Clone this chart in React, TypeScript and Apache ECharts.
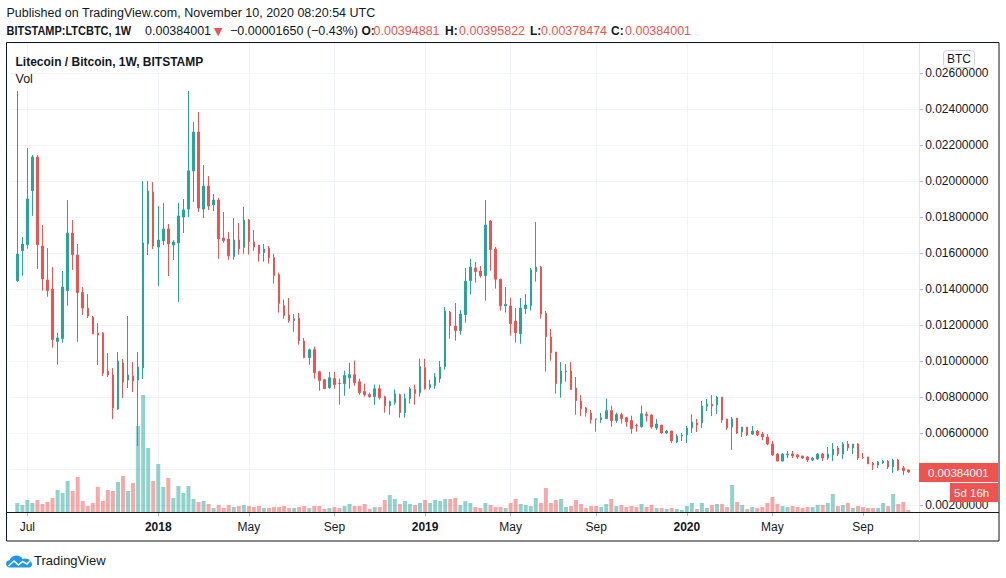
import React, { useEffect, useRef } from "react";
import * as echarts from "echarts";

// ---- data (weekly LTC/BTC, Bitstamp) ----
const FIRST_WEEK_UTC = Date.UTC(2017, 5, 19); // Monday of the first weekly bar

const opens = [
  0.01446, 0.01613, 0.01646, 0.01946, 0.02133, 0.01639, 0.0145, 0.014, 0.01109, 0.01124,
  0.01391, 0.01711, 0.01589, 0.0138, 0.01294, 0.01244, 0.01156, 0.01156, 0.00944, 0.00922,
  0.00733, 0.00989, 0.00894, 0.00917, 0.00894, 0.00961, 0.0165, 0.01939, 0.01633, 0.01667,
  0.01733, 0.01644, 0.01656, 0.018, 0.01844, 0.02056, 0.02272, 0.01844, 0.01972, 0.01867,
  0.01894, 0.01683, 0.01678, 0.0158, 0.01672, 0.0163, 0.01783, 0.01661, 0.01644, 0.01602,
  0.01628, 0.01574, 0.0148, 0.01307, 0.01256, 0.01224, 0.01239, 0.01111, 0.01019, 0.01063,
  0.0094, 0.00896, 0.00852, 0.00902, 0.00876, 0.00874, 0.00907, 0.00924, 0.00885, 0.0083,
  0.00813, 0.00802, 0.00846, 0.00802, 0.00752, 0.00769, 0.00813, 0.00713, 0.00791, 0.00841,
  0.00824, 0.00963, 0.00852, 0.00863, 0.00902, 0.00969, 0.01272, 0.01194, 0.01169, 0.01257,
  0.01446, 0.01517, 0.015, 0.01474, 0.01778, 0.01622, 0.01454, 0.01307, 0.01306, 0.01222,
  0.01152, 0.01291, 0.01307, 0.01496, 0.01522, 0.01265, 0.01133, 0.0105, 0.00874, 0.0094,
  0.00944, 0.0085, 0.00778, 0.00739, 0.00711, 0.00678, 0.00674, 0.0068, 0.00724, 0.00669,
  0.00702, 0.00685, 0.00669, 0.00641, 0.00635, 0.00704, 0.007, 0.00628, 0.00644, 0.006,
  0.00611, 0.0055, 0.00583, 0.00589, 0.00628, 0.00656, 0.00656, 0.00748, 0.00761, 0.00756,
  0.008, 0.00678, 0.00633, 0.00683, 0.00606, 0.00633, 0.00594, 0.00611, 0.00594, 0.00578,
  0.00539, 0.00483, 0.00444, 0.00478, 0.00483, 0.00478, 0.00472, 0.00467, 0.0045, 0.00456,
  0.00483, 0.00461, 0.00478, 0.00517, 0.00483, 0.00539, 0.00517, 0.00539, 0.00465, 0.00467,
  0.00433, 0.00422, 0.00433, 0.00444, 0.00411, 0.0045, 0.00406, 0.00394881,
];

const closes = [
  0.01594, 0.0165, 0.019, 0.02133, 0.01646, 0.01456, 0.01391, 0.0112, 0.01128, 0.01411,
  0.01711, 0.01591, 0.0138, 0.01294, 0.0125, 0.0115, 0.01144, 0.00933, 0.00922, 0.00739,
  0.01, 0.00883, 0.00922, 0.00889, 0.00967, 0.01656, 0.01944, 0.01639, 0.01672, 0.01733,
  0.0165, 0.01661, 0.01806, 0.01839, 0.02056, 0.02272, 0.0185, 0.01972, 0.01861, 0.01894,
  0.01678, 0.01669, 0.01585, 0.01672, 0.01624, 0.01783, 0.01663, 0.01633, 0.01596, 0.01622,
  0.01574, 0.01474, 0.01319, 0.01252, 0.01224, 0.01235, 0.01113, 0.01019, 0.01063, 0.00935,
  0.00891, 0.00846, 0.00907, 0.00869, 0.00874, 0.00919, 0.00924, 0.0088, 0.00824, 0.00813,
  0.00802, 0.00846, 0.00796, 0.00752, 0.00774, 0.00817, 0.00713, 0.00791, 0.00846, 0.00819,
  0.00969, 0.00846, 0.00869, 0.00911, 0.00967, 0.01278, 0.01196, 0.01169, 0.01261, 0.01444,
  0.01522, 0.01496, 0.01474, 0.01756, 0.01619, 0.01454, 0.01307, 0.01315, 0.01207, 0.01157,
  0.01294, 0.01311, 0.01506, 0.01522, 0.01261, 0.01135, 0.01046, 0.00874, 0.00944, 0.00944,
  0.00841, 0.0078, 0.00735, 0.00713, 0.00674, 0.00676, 0.00685, 0.00724, 0.00669, 0.00702,
  0.0068, 0.00663, 0.00624, 0.00639, 0.00707, 0.00696, 0.00633, 0.0065, 0.006, 0.00611,
  0.00556, 0.00583, 0.00589, 0.00628, 0.00661, 0.00644, 0.0075, 0.00761, 0.0075, 0.008,
  0.00672, 0.00628, 0.00678, 0.006, 0.00633, 0.00589, 0.00611, 0.00589, 0.00578, 0.00539,
  0.00478, 0.00444, 0.00483, 0.00483, 0.00472, 0.00467, 0.00461, 0.0045, 0.00461, 0.00483,
  0.00461, 0.00483, 0.00511, 0.00483, 0.00539, 0.00517, 0.00539, 0.00461, 0.00463, 0.00428,
  0.00422, 0.00439, 0.00444, 0.00411, 0.0045, 0.00394, 0.00392, 0.00384001,
];

const lows = [
  0.0144, 0.01474, 0.01624, 0.01806, 0.01511, 0.01391, 0.01357, 0.01074, 0.0098, 0.01102,
  0.01307, 0.01506, 0.01107, 0.01256, 0.01239, 0.0115, 0.00978, 0.00917, 0.00911, 0.00678,
  0.00728, 0.00794, 0.0085, 0.00828, 0.00528, 0.009, 0.01589, 0.01622, 0.01417, 0.01644,
  0.01472, 0.01561, 0.01328, 0.01711, 0.018, 0.01883, 0.01828, 0.01794, 0.01839, 0.01833,
  0.01567, 0.01657, 0.01563, 0.01563, 0.01591, 0.01596, 0.01591, 0.01613, 0.01552, 0.01552,
  0.01541, 0.0143, 0.01269, 0.01235, 0.01213, 0.01163, 0.01091, 0.01015, 0.0098, 0.00902,
  0.00835, 0.00846, 0.00846, 0.00846, 0.00757, 0.00807, 0.00846, 0.00863, 0.00813, 0.00802,
  0.00796, 0.00757, 0.00785, 0.00713, 0.00702, 0.00757, 0.00685, 0.00685, 0.00763, 0.00757,
  0.00802, 0.00841, 0.00841, 0.00846, 0.0088, 0.00952, 0.01124, 0.01113, 0.01146, 0.01213,
  0.01369, 0.01435, 0.01463, 0.01335, 0.01502, 0.01402, 0.0128, 0.01269, 0.01141, 0.01102,
  0.01096, 0.01261, 0.0128, 0.01441, 0.01235, 0.00941, 0.01002, 0.00819, 0.00796, 0.00885,
  0.00841, 0.00702, 0.00693, 0.00691, 0.00652, 0.00607, 0.00656, 0.0068, 0.00635, 0.00657,
  0.00652, 0.00635, 0.00596, 0.00607, 0.0063, 0.00663, 0.00624, 0.00617, 0.00594, 0.00594,
  0.00544, 0.00544, 0.00556, 0.00544, 0.006, 0.00606, 0.00628, 0.00722, 0.00694, 0.00706,
  0.00656, 0.00617, 0.00506, 0.00594, 0.00578, 0.00583, 0.00589, 0.00583, 0.00561, 0.00533,
  0.00472, 0.00444, 0.00444, 0.00461, 0.00461, 0.00456, 0.00456, 0.00439, 0.00444, 0.0045,
  0.00444, 0.0045, 0.00444, 0.00472, 0.00456, 0.005, 0.00483, 0.0045, 0.00456, 0.00428,
  0.00394, 0.00406, 0.00428, 0.004, 0.00378, 0.00389, 0.00367, 0.00378474,
];

const highs = [
  0.025, 0.01689, 0.02183, 0.02144, 0.02144, 0.01756, 0.01628, 0.01522, 0.01156, 0.015,
  0.01894, 0.01783, 0.0165, 0.01411, 0.01372, 0.0125, 0.01211, 0.01161, 0.01044, 0.00961,
  0.0105, 0.01011, 0.0125, 0.00994, 0.0105, 0.02, 0.02, 0.01994, 0.01861, 0.01878,
  0.01761, 0.01672, 0.01878, 0.019, 0.025, 0.02328, 0.02383, 0.02089, 0.02028, 0.01928,
  0.01906, 0.01828, 0.01717, 0.01794, 0.01767, 0.01856, 0.01789, 0.01728, 0.01644, 0.0165,
  0.01639, 0.01596, 0.01491, 0.01341, 0.0135, 0.01261, 0.01267, 0.01128, 0.01069, 0.0108,
  0.00946, 0.00902, 0.0094, 0.0094, 0.00902, 0.00946, 0.00991, 0.01002, 0.00902, 0.00874,
  0.00824, 0.00869, 0.00869, 0.00807, 0.0078, 0.00841, 0.00819, 0.00819, 0.00857, 0.00869,
  0.01013, 0.01013, 0.00896, 0.00933, 0.01, 0.013, 0.01278, 0.01322, 0.01283, 0.01517,
  0.01567, 0.0155, 0.01528, 0.01894, 0.01783, 0.01633, 0.01457, 0.01411, 0.0135, 0.01294,
  0.0135, 0.01372, 0.01517, 0.01772, 0.01528, 0.01278, 0.01178, 0.0105, 0.00994, 0.00983,
  0.00994, 0.00911, 0.00811, 0.00744, 0.00728, 0.0068, 0.00711, 0.00791, 0.00752, 0.00713,
  0.00713, 0.0069, 0.00696, 0.00652, 0.00752, 0.00718, 0.00704, 0.00678, 0.00644, 0.00617,
  0.00611, 0.00594, 0.006, 0.00639, 0.00704, 0.00678, 0.00778, 0.00789, 0.00811, 0.00806,
  0.008, 0.00678, 0.00689, 0.00683, 0.00633, 0.00633, 0.00639, 0.00617, 0.00606, 0.00594,
  0.00556, 0.00489, 0.00489, 0.005, 0.005, 0.00483, 0.00472, 0.00472, 0.00467, 0.00489,
  0.00489, 0.00522, 0.00544, 0.00528, 0.0055, 0.00556, 0.00539, 0.00544, 0.00489, 0.00467,
  0.00439, 0.00444, 0.0045, 0.0045, 0.00456, 0.00456, 0.00417, 0.00395822,
];

// volume, arbitrary units
const volumes = [
  9, 7, 12, 9, 12, 8, 10, 14, 22, 19, 31, 21, 35, 11, 6, 9, 25, 11, 22, 21,
  30, 36, 21, 29, 86, 117, 64, 31, 48, 25, 34, 14, 26, 19, 26, 13, 10, 11, 8, 4,
  7, 4, 7, 5, 6, 7, 6, 5, 6, 4, 4, 5, 5, 6, 4, 4, 5, 6, 4, 6,
  6, 3, 4, 5, 4, 6, 8, 6, 6, 8, 3, 5, 5, 12, 17, 13, 8, 11, 8, 7,
  9, 12, 9, 12, 11, 13, 13, 14, 7, 11, 9, 5, 4, 9, 7, 5, 5, 4, 9, 13,
  8, 7, 6, 14, 9, 24, 9, 12, 13, 5, 6, 12, 8, 4, 6, 6, 5, 8, 13, 6,
  7, 5, 6, 5, 8, 5, 7, 4, 4, 3, 4, 3, 2, 6, 9, 3, 9, 4, 7, 8,
  8, 5, 27, 10, 7, 3, 5, 4, 5, 9, 15, 8, 6, 5, 6, 5, 4, 5, 5, 7,
  7, 9, 18, 6, 7, 9, 4, 6, 5, 4, 4, 4, 9, 6, 18, 8, 10, 2,
];

// weekly bars that carry a time-axis label (Jul, 2018, May, Sep, 2019, ...)
const tickWeekIdx = [2, 28, 46, 63, 81, 98, 115, 133, 150, 168];
const MONTHS = ["Jan", "Feb", "Mar", "Apr", "May", "Jun", "Jul", "Aug", "Sep", "Oct", "Nov", "Dec"];
const lastPrice = 0.00384001;
// price-axis level hidden under the last-price badge
const hiddenPriceLevel = 0.004;

// ---- styling ----
const UP = "#26a69a";
const DOWN = "#ef5350";
const UP_VOL = "rgba(38,166,154,0.5)";
const DOWN_VOL = "rgba(239,83,80,0.5)";
const FONT = "'Liberation Sans', Arial, sans-serif";
const INK = "#131722";
const GRID = "#f0f3fa";

const CLOUD =
  "M4 12C1.5 12 0 10.3 0 8.3C0 6.3 1.6 4.8 3.6 4.8C4.6 2 7.3 0 10.5 0C13.2 0 15.5 1.4 16.6 3.5C17.4 3.1 18.3 2.9 19.2 2.9C22.8 2.9 26 5.7 26 8.8C26 10.6 24.7 12 23 12Z";
echarts.graphic.registerShape("tvcloud", echarts.graphic.extendPath(CLOUD, {}));

const PAD_L = 1;

function txt(x: number, y: number, text: string, o: any = {}) {
  const { scaleX, ...style } = o;
  return {
    type: "text",
    x,
    y,
    z: 100,
    scaleX: scaleX ?? 1,
    silent: true,
    style: {
      text,
      fill: INK,
      fontFamily: FONT,
      fontSize: 12,
      align: "left",
      textAlign: "left",
      verticalAlign: "middle",
      textVerticalAlign: "middle",
      ...style,
    },
  };
}

export default function App() {
  const ref = useRef<HTMLDivElement>(null);

  useEffect(() => {
    document.body.style.margin = "0";
    const chart = echarts.init(ref.current!, null, { renderer: "svg" });

    const dates: string[] = opens.map((_, i) =>
      new Date(FIRST_WEEK_UTC + i * 7 * 86400000).toISOString().slice(0, 10)
    );
    const cats = ["pad-l", ...dates, "pad-r1", "pad-r2"];
    const tickSet = new Set(tickWeekIdx.map((i) => i + PAD_L));
    const isTick = (i: number) => tickSet.has(i);

    const candleData: any[] = [
      "-",
      ...opens.map((o, i) => [o, closes[i], lows[i], highs[i]]),
      "-",
      "-",
    ];
    const volData: any[] = [
      "-",
      ...volumes.map((v, i) => ({
        value: v,
        itemStyle: { color: closes[i] >= opens[i] ? UP_VOL : DOWN_VOL },
      })),
      "-",
      "-",
    ];

    const option: any = {
      animation: false,
      backgroundColor: "#ffffff",
      grid: { left: 9.75, top: 43, width: 911.15, height: 469, containLabel: false },
      xAxis: {
        type: "category",
        data: cats,
        boundaryGap: true,
        axisLine: { show: false },
        axisTick: {
          show: true,
          alignWithLabel: true,
          interval: (i: number) => isTick(i),
          length: 4,
          lineStyle: { color: "#b2b5be" },
        },
        axisLabel: {
          interval: (i: number) => isTick(i),
          margin: 9,
          color: INK,
          fontSize: 12,
          fontFamily: FONT,
          formatter: (v: string) => {
            if (!/^\d{4}-/.test(v)) return "";
            const d = new Date(v + "T00:00:00Z");
            const m = d.getUTCMonth();
            return m === 0 ? `{y|${d.getUTCFullYear()}}` : MONTHS[m];
          },
          rich: {
            y: { fontWeight: "bold", fontSize: 12, fontFamily: FONT, color: INK },
          },
        },
        splitLine: {
          show: true,
          alignWithLabel: true,
          interval: (i: number) => isTick(i),
          lineStyle: { color: GRID, width: 1 },
        },
      },
      yAxis: [
        {
          type: "value",
          position: "right",
          offset: -1.75,
          min: 0.0016111,
          max: 0.0276667,
          splitNumber: 13,
          minInterval: 0.002,
          maxInterval: 0.002,
          axisLine: { show: false },
          axisTick: { show: true, length: 4, lineStyle: { color: "#b2b5be" } },
          axisLabel: {
            margin: 6,
            color: INK,
            fontSize: 12,
            fontFamily: FONT,
            showMinLabel: false,
            showMaxLabel: false,
            formatter: (v: number) =>
              Math.abs(v - hiddenPriceLevel) < 1e-9 ? "" : v.toFixed(8),
          },
          splitLine: { show: true, lineStyle: { color: GRID, width: 1 } },
        },
        {
          type: "value",
          min: 0,
          max: 469,
          show: false,
          splitLine: { show: false },
        },
      ],
      series: [
        {
          type: "bar",
          yAxisIndex: 1,
          data: volData,
          barWidth: 4,
          z: 1,
          silent: true,
        },
        {
          type: "candlestick",
          data: candleData,
          barWidth: 2,
          z: 2,
          silent: true,
          itemStyle: {
            color: UP,
            color0: DOWN,
            borderColor: UP,
            borderColor0: DOWN,
            borderWidth: 1,
          },
          markLine: {
            silent: true,
            symbol: ["none", "none"],
            label: { show: false },
            lineStyle: { color: DOWN, type: [1, 2], width: 1 },
            data: [{ yAxis: lastPrice }],
          },
        },
      ],
      graphic: [
        // frame & separators
        {
          type: "rect",
          z: 100,
          silent: true,
          shape: { x: 6.5, y: 42.5, width: 992.5, height: 498.5 },
          style: { fill: "none", stroke: INK, lineWidth: 1 },
        },
        {
          type: "line",
          z: 100,
          silent: true,
          shape: { x1: 919.5, y1: 43, x2: 919.5, y2: 541 },
          style: { stroke: "#e0e3eb", lineWidth: 1 },
        },
        {
          type: "line",
          z: 100,
          silent: true,
          shape: { x1: 7, y1: 512.5, x2: 999, y2: 512.5 },
          style: { stroke: INK, lineWidth: 1 },
        },
        // header
        txt(6.5, 13, "Published on TradingView.com, November 10, 2020 08:20:54 UTC", { fontSize: 12.5 }),
        txt(6.5, 31, "BITSTAMP:LTCBTC, 1W", { fontWeight: "bold", scaleX: 0.915 }),
        txt(145, 31, "0.00384001", { fontSize: 12.5 }),
        txt(214, 31, "▼", { fill: DOWN, fontSize: 11, fontFamily: "'DejaVu Sans', sans-serif" }),
        txt(230, 31, "−0.00001650 (−0.43%)", { fontSize: 12.5 }),
        txt(361.5, 31, "O:", { fontWeight: "bold" }),
        txt(373.5, 31, "0.00394881", { fontSize: 12.5, fill: DOWN }),
        txt(445, 31, "H:", { fontWeight: "bold" }),
        txt(459, 31, "0.00395822", { fontSize: 12.5, fill: DOWN }),
        txt(530, 31, "L:", { fontWeight: "bold" }),
        txt(541, 31, "0.00378474", { fontSize: 12.5, fill: DOWN }),
        txt(611, 31, "C:", { fontWeight: "bold" }),
        txt(625, 31, "0.00384001", { fontSize: 12.5, fill: DOWN }),
        txt(15.5, 61.5, "Litecoin / Bitcoin, 1W, BITSTAMP", { fontWeight: "bold" }),
        txt(15.5, 79, "Vol", { fontSize: 12.5 }),
        // BTC unit badge
        {
          type: "rect",
          z: 100,
          silent: true,
          shape: { x: 943.5, y: 50.5, width: 31, height: 17, r: 3 },
          style: { fill: "#ffffff", stroke: "#d1d4dc", lineWidth: 1 },
        },
        txt(959, 59, "BTC", { align: "center", textAlign: "center" }),
        // last price label
        {
          type: "rect",
          z: 100,
          silent: true,
          shape: { x: 919, y: 463, width: 79, height: 19 },
          style: { fill: DOWN },
        },
        txt(928, 472.5, "0.00384001", { fill: "#ffffff", fontSize: 11.5 }),
        {
          type: "rect",
          z: 100,
          silent: true,
          shape: { x: 950, y: 483, width: 48, height: 19 },
          style: { fill: DOWN },
        },
        txt(954, 492.5, "5d 16h", { fill: "#ffffff", fontSize: 11.5 }),
        // TradingView logo
        {
          type: "tvcloud",
          z: 100,
          silent: true,
          x: 6,
          y: 555.5,
          scaleX: 1,
          scaleY: 1,
          style: { fill: "#2196f3" },
        },
        {
          type: "polyline",
          z: 101,
          silent: true,
          shape: {
            points: [
              [8.5, 566],
              [14, 561],
              [18.5, 565],
              [22.5, 561.5],
              [27, 564],
              [30.5, 560.5],
            ],
          },
          style: { stroke: "#ffffff", lineWidth: 1.6, fill: "none" },
        },
        txt(34, 560.5, "TradingView", { fontSize: 13 }),
      ],
    };

    chart.setOption(option);
    return () => chart.dispose();
  }, []);

  return <div ref={ref} style={{ width: 1006, height: 578 }} />;
}
